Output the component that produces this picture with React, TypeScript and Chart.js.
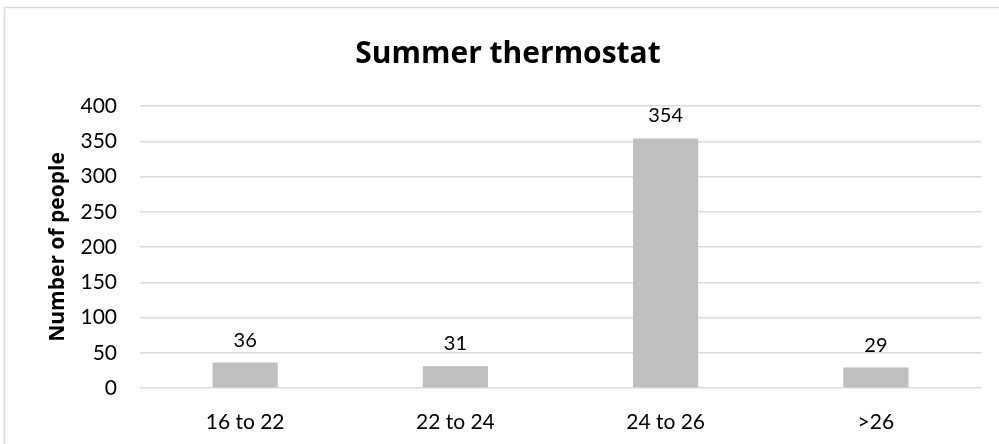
import React, { useEffect, useRef } from "react";
import { Chart, registerables } from "chart.js";

Chart.register(...registerables);

const categories: string[] = ["16 to 22", "22 to 24", "24 to 26", ">26"];
const peopleCounts: number[] = [36, 31, 354, 29];
const yTicks: number[] = [0, 50, 100, 150, 200, 250, 300, 350, 400];
const chartTitle = "Summer thermostat";
const yAxisTitle = "Number of people";

const FONT = "Lato, 'Noto Sans', sans-serif";
const BOLD_FONT = "'Open Sans', 'Noto Sans', sans-serif";

const framePlugin = {
  id: "frame",
  beforeDraw(chart: any) {
    const ctx = chart.ctx;
    ctx.save();
    ctx.fillStyle = "#ffffff";
    ctx.fillRect(0, 0, chart.width, chart.height);
    ctx.strokeStyle = "#d9d9d9";
    ctx.lineWidth = 1.5;
    ctx.strokeRect(4.5, 7.5, chart.width + 20, chart.height + 20);
    ctx.restore();
  },
};

const titlePlugin = {
  id: "customTitle",
  afterDraw(chart: any) {
    const ctx = chart.ctx;
    ctx.save();
    ctx.font = `bold 30px ${BOLD_FONT}`;
    ctx.fillStyle = "#000000";
    ctx.textAlign = "center";
    ctx.textBaseline = "alphabetic";
    ctx.fillText(chartTitle, 508, 63);
    ctx.restore();
  },
};

const labelPlugin = {
  id: "barLabels",
  afterDatasetsDraw(chart: any) {
    const ctx = chart.ctx;
    const meta = chart.getDatasetMeta(0);
    ctx.save();
    ctx.font = `20px ${FONT}`;
    ctx.fillStyle = "#000000";
    ctx.textAlign = "center";
    ctx.textBaseline = "alphabetic";
    meta.data.forEach((bar: any, i: number) => {
      ctx.fillText(String(peopleCounts[i]), bar.x, bar.y - 16);
    });
    ctx.restore();
  },
};

export default function App() {
  const canvasRef = useRef<HTMLCanvasElement | null>(null);

  useEffect(() => {
    if (!canvasRef.current) return;
    const chart = new Chart(canvasRef.current, {
      type: "bar",
      data: {
        labels: categories,
        datasets: [
          {
            data: peopleCounts,
            backgroundColor: "#bfbfbf",
            borderWidth: 0,
            categoryPercentage: 1,
            barPercentage: 0.31,
          },
        ],
      },
      options: {
        animation: false,
        responsive: true,
        maintainAspectRatio: false,
        layout: { padding: { top: 106, right: 18, bottom: 0, left: 0 } },
        plugins: {
          legend: { display: false },
          title: { display: false },
          tooltip: { enabled: false },
        },
        scales: {
          x: {
            grid: { display: false },
            border: { display: false },
            ticks: {
              color: "#000000",
              font: { family: FONT, size: 21 },
              padding: 14,
            },
            afterFit(scale: any) {
              scale.height = 56;
            },
          },
          y: {
            min: 0,
            max: 400,
            afterBuildTicks(scale: any) {
              scale.ticks = yTicks.map((v) => ({ value: v }));
            },
            grid: {
              color: "#d9d9d9",
              lineWidth: 1.5,
              drawTicks: false,
            },
            border: { display: false },
            ticks: {
              color: "#000000",
              font: { family: FONT, size: 21 },
              padding: 23,
            },
            title: {
              display: true,
              text: yAxisTitle,
              color: "#000000",
              font: { family: BOLD_FONT, size: 21, weight: "bold" },
              padding: { top: 45, bottom: 0 },
            },
            afterFit(scale: any) {
              scale.width = 140;
            },
          },
        },
      },
      plugins: [framePlugin, titlePlugin, labelPlugin],
    });
    return () => chart.destroy();
  }, []);

  return (
    <div style={{ position: "fixed", left: 0, top: 0, width: 999, height: 444 }}>
      <canvas ref={canvasRef} />
    </div>
  );
}
